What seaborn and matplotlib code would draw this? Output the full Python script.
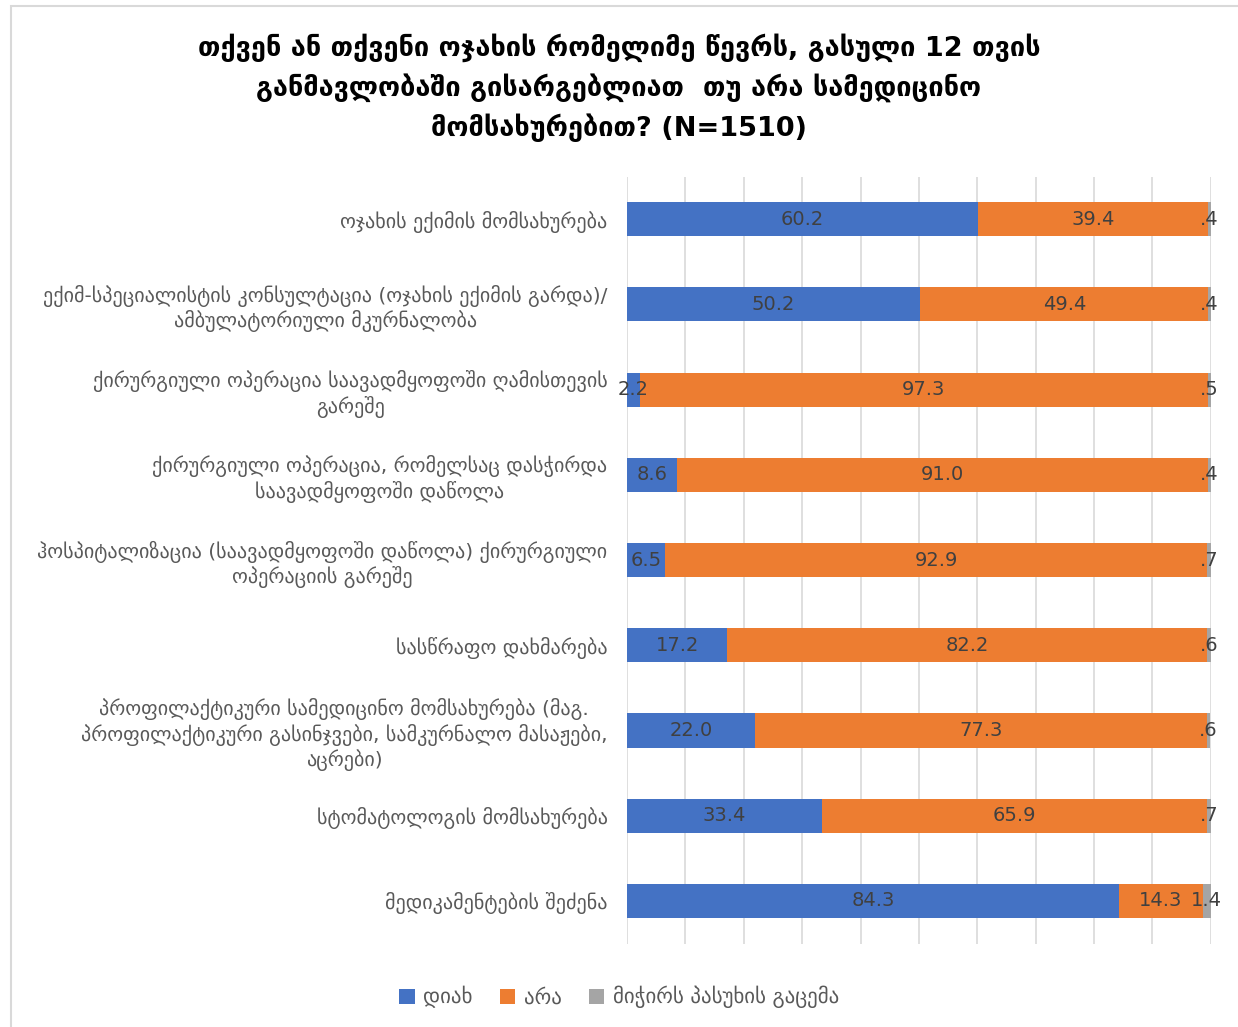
import matplotlib
matplotlib.use("Agg")
import matplotlib.pyplot as plt
from matplotlib.patches import Patch, Rectangle
import seaborn as sns
import pandas as pd

categories = [
    "ოჯახის ექიმის მომსახურება",
    "ექიმ-სპეციალისტის კონსულტაცია (ოჯახის ექიმის გარდა)/\nამბულატორიული მკურნალობა",
    "ქირურგიული ოპერაცია საავადმყოფოში ღამისთევის\nგარეშე",
    "ქირურგიული ოპერაცია, რომელსაც დასჭირდა\nსაავადმყოფოში დაწოლა",
    "ჰოსპიტალიზაცია (საავადმყოფოში დაწოლა) ქირურგიული\nოპერაციის გარეშე",
    "სასწრაფო დახმარება",
    "პროფილაქტიკური სამედიცინო მომსახურება (მაგ.\nპროფილაქტიკური გასინჯვები, სამკურნალო მასაჟები,\nაცრები)",
    "სტომატოლოგის მომსახურება",
    "მედიკამენტების შეძენა",
]
yes_vals = [60.2, 50.2, 2.2, 8.6, 6.5, 17.2, 22.0, 33.4, 84.3]
no_vals = [39.4, 49.4, 97.3, 91.0, 92.9, 82.2, 77.3, 65.9, 14.3]
dk_vals = [0.4, 0.4, 0.5, 0.4, 0.7, 0.6, 0.6, 0.7, 1.4]
series_names = ["დიახ", "არა", "მიჭირს პასუხის გაცემა"]
colors = ["#4472C4", "#ED7D31", "#A5A5A5"]
title = ("თქვენ ან თქვენი ოჯახის რომელიმე წევრს, გასული 12 თვის\n"
         "განმავლობაში გისარგებლიათ  თუ არა სამედიცინო\n"
         "მომსახურებით? (N=1510)")

df = pd.DataFrame({"cat": categories, "yes": yes_vals, "no": no_vals, "dk": dk_vals})
df["c1"] = df["yes"]
df["c2"] = df["yes"] + df["no"]
df["c3"] = df["c2"] + df["dk"]

sns.set_theme(style="white")
plt.rcParams["font.family"] = ["DejaVu Sans"]

fig = plt.figure(figsize=(12.38, 10.27), dpi=100)
ax = fig.add_axes([0.5065, 0.0812, 0.4715, 0.7469])

for col, c in zip(["c3", "c2", "c1"], colors[::-1]):
    sns.barplot(data=df, x=col, y="cat", orient="h", color=c, width=0.4,
                saturation=1, ax=ax, zorder=3, edgecolor="none")

ax.set_xlim(0, 100)
ax.set_xticks(range(0, 101, 10))
ax.set_xticklabels([])
ax.xaxis.grid(True, color="#D9D9D9", linewidth=1.2, zorder=0)
ax.set_axisbelow(True)
for s in ax.spines.values():
    s.set_visible(False)
ax.set_xlabel("")
ax.set_ylabel("")
ax.tick_params(axis="y", length=0, pad=14)
ax.tick_params(axis="x", length=0)
for lbl in ax.get_yticklabels():
    lbl.set_multialignment("center")
    lbl.set_fontsize(14.5)
    lbl.set_color("#595959")

def fmt(v):
    s = f"{v:.1f}"
    if s.startswith("0"):
        s = s[1:]
    return s

for i, row in df.iterrows():
    segs = [(0, row["yes"]), (row["c1"], row["no"]), (row["c2"], row["dk"])]
    for start, w in segs:
        ax.text(start + w / 2, i, fmt(w), ha="center", va="center",
                fontsize=14, color="#404040", zorder=5)

fig.suptitle(title, x=0.5, y=0.915, va="center", fontsize=19.5, fontweight="bold",
             color="black", linespacing=1.5)

handles = [Patch(facecolor=c, edgecolor="none") for c in colors]
fig.legend(handles, series_names, loc="center", bbox_to_anchor=(0.5, 0.029),
           ncol=3, frameon=False, fontsize=15, handlelength=0.75, handleheight=0.75,
           handletextpad=0.4, columnspacing=1.3, labelcolor="#595959")

fig.add_artist(Rectangle((11 / 1238, -0.1), 1.2, 1 - 6 / 1027 + 0.1,
                         transform=fig.transFigure, fill=False,
                         edgecolor="#D9D9D9", linewidth=1.5))

fig.savefig("out.png", dpi=100)
